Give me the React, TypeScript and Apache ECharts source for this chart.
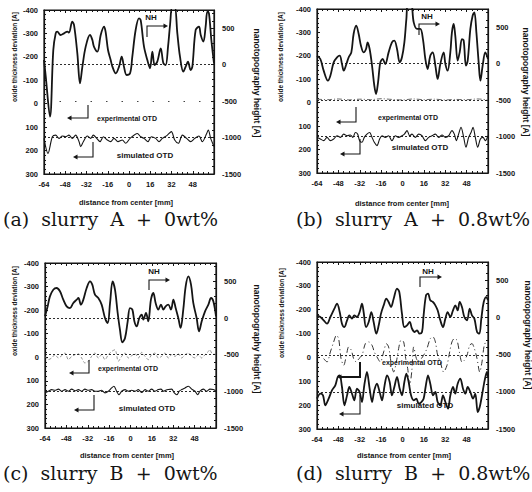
import React, { useEffect, useRef } from 'react';
import * as echarts from 'echarts';

type Pt = [number, number];

const captions = ['(a)  slurry  A  +  0wt%', '(b)  slurry  A  +  0.8wt%', '(c)  slurry  B  +  0wt%', '(d)  slurry  B  +  0.8wt%'];
const xTickLabels = [-64, -48, -32, -16, 0, 16, 32, 48];
const leftAxisName = 'oxide thickness deviation [A]';
const rightAxisName = 'nanotopography height [A]';
const xAxisName = 'distance from center [mm]';
const nhLabel = 'NH';
const expLabel = 'experimental OTD';
const simLabel = 'simulated OTD';

// nanotopography height (right axis, Å)
const nhA: Pt[] = [[-64,64],[-62.7,-160],[-59.5,-713],[-57,200],[-55.2,430],[-54,453],[-51.5,407],[-48.9,430],[-46.4,453],[-45.2,440],[-42.7,590],[-41.4,545],[-38.9,155],[-36.9,-256],[-35.1,-27],[-32.6,247],[-29.4,407],[-27.6,340],[-26.4,247],[-23.8,178],[-21.3,407],[-18.8,521],[-17.6,450],[-15.8,201],[-13.8,64],[-12.5,-27],[-10,-119],[-7.5,-27],[-5.5,110],[-3.8,-27],[-1.8,-142],[0.8,-119],[2.5,110],[5,476],[7.5,636],[8.8,610],[11.3,247],[13.8,64],[15.8,-50],[17.6,178],[19.3,-5],[21.3,41],[23.9,224],[25.9,18],[27.6,-5],[29.4,247],[30.9,544],[32.6,800],[34.4,800],[36.4,430],[38.4,110],[40.9,-96],[42.7,-27],[44.4,41],[46.4,-73],[47.7,-27],[50.2,476],[52.7,521],[54,407],[56,316],[57.7,521],[59,727],[60.2,704],[62,338],[64,18]];
const nhB: Pt[] = [[-64,110],[-61.5,64],[-59,-96],[-55.8,-233],[-54,-165],[-51.5,18],[-49,87],[-47,110],[-45.3,-5],[-44,-96],[-42,-5],[-40.3,87],[-38.3,155],[-36.6,407],[-34.6,521],[-32.8,407],[-31.1,247],[-29.1,155],[-27.3,201],[-26.1,293],[-24.6,201],[-22.8,-27],[-21.1,-302],[-19.8,-416],[-18.3,-256],[-16.6,18],[-14.8,64],[-12.9,-5],[-10.4,155],[-7.9,293],[-6.1,316],[-4.1,201],[-2.1,18],[-0.4,87],[1.4,293],[2.9,613],[4.1,820],[6.4,820],[8.4,567],[10.9,476],[13.3,476],[15.3,338],[17.1,64],[18.8,-73],[20.8,110],[22.6,155],[24.6,-27],[26.3,-210],[28.3,-5],[30.8,155],[32.1,-5],[33.8,-96],[35.8,155],[37,430],[38.3,544],[39.5,384],[41.3,41],[42.8,155],[44.5,338],[45.8,316],[47.5,-27],[48.8,41],[50.8,476],[52.5,658],[53.8,704],[55.3,430],[57,18],[58.3,-233],[60,-27],[62,155],[64,64]];
const nhC: Pt[] = [[-64,23],[-62,159],[-60.3,295],[-57.8,386],[-55.3,409],[-52.8,364],[-50.3,250],[-47.8,159],[-45.3,136],[-42.8,205],[-40.3,250],[-39,273],[-37.1,182],[-35.3,250],[-32.8,409],[-30.3,500],[-28.6,455],[-26.6,318],[-24.1,273],[-21.6,182],[-19.1,0],[-17.1,-68],[-15.3,205],[-13.4,500],[-11.6,386],[-9.6,68],[-7.9,-159],[-6.1,-332],[-4.1,-273],[-2.1,-45],[-0.4,136],[1.4,114],[2.9,-45],[4.6,-114],[6.6,0],[8.4,45],[9.6,-23],[11.6,68],[13.3,-45],[15.3,250],[17.1,341],[18.8,205],[20.8,114],[22.8,182],[24.6,114],[26.3,159],[28.3,182],[30.3,114],[32.1,250],[33.8,136],[35.8,0],[37.5,-136],[39.5,114],[41.3,432],[43.3,568],[45.3,455],[47,205],[49.5,0],[51.3,-182],[53.3,-45],[55.8,91],[58.3,182],[60.3,273],[62,227],[64,23]];
const nhD: Pt[] = [[-64,31],[-61.5,9],[-59,-36],[-56.5,-81],[-54,9],[-51,121],[-49,189],[-47,76],[-45.3,-81],[-43.5,-126],[-41.5,-36],[-39.8,31],[-37.8,-13],[-36.1,31],[-34.1,9],[-32.1,76],[-30.3,189],[-29.1,76],[-27.3,-126],[-25.3,-58],[-23.3,76],[-21.6,-58],[-19.6,-216],[-17.8,-103],[-16.1,54],[-14.1,166],[-12.1,256],[-10.4,211],[-8.6,144],[-6.6,256],[-4.1,391],[-2.4,346],[-0.4,54],[1.4,-126],[3.4,-103],[5.4,-58],[7.1,-148],[9.1,-193],[10.9,-171],[12.8,-216],[14.6,-193],[15.8,31],[17.6,301],[19.1,323],[20.8,234],[22.8,211],[24.6,166],[26.3,99],[28.3,-36],[30.3,-126],[32.1,-13],[33.8,76],[35.8,9],[37.8,99],[39.5,166],[41.3,99],[42.8,211],[44.5,144],[46.3,9],[48.3,-36],[50.3,121],[52,31],[53.8,-13],[55.8,-193],[57.5,-216],[59,-13],[60.8,211],[62.7,278],[64,234]];

// experimental OTD (left axis, Å)
const expB: Pt[] = [[-64,-15],[-56,-13],[-48,-16],[-40,-12],[-32,-15],[-24,-13],[-16,-17],[-8,-14],[0,-12],[8,-16],[16,-13],[24,-15],[32,-12],[40,-14],[48,-13],[56,-16],[64,-12]];
const expC: Pt[] = [[-64,-4],[-61.5,10],[-59,3],[-56.5,-11],[-54,3],[-51.5,-7],[-49,-18],[-46.5,10],[-44,-4],[-41.5,-11],[-39,-15],[-36.6,3],[-34.1,24],[-31.6,17],[-29.1,-4],[-26.6,-18],[-24.1,3],[-21.6,-11],[-19.1,10],[-16.6,-11],[-14.1,-25],[-11.6,-32],[-9.1,17],[-6.6,-4],[-4.1,-18],[-1.6,3],[0.9,-7],[3.4,-15],[5.9,3],[8.4,-21],[10.9,-4],[13.3,10],[15.8,-11],[18.3,-18],[20.8,3],[23.3,-4],[25.8,-18],[28.3,3],[30.8,-11],[33.3,-4],[35.8,-15],[38.3,3],[40.8,-11],[43.3,-18],[45.8,-4],[48.3,3],[50.8,-11],[53.3,3],[55.8,-11],[58.3,-25],[59.5,-32],[60.8,-18],[64,-11]];
const expD: Pt[] = [[-59,5],[-56.5,19],[-54,-23],[-51.5,-65],[-49.5,-93],[-47.8,-79],[-46,5],[-44,33],[-42,-9],[-40.3,-44],[-38.3,-30],[-36.6,5],[-34.6,19],[-32.6,5],[-30.3,-9],[-27.8,-58],[-25.3,-65],[-22.8,-51],[-21.1,-23],[-19.1,-2],[-16.6,19],[-14.1,-23],[-12.1,-58],[-10.4,-44],[-8.6,19],[-6.6,61],[-4.6,19],[-2.9,-37],[-1.1,-72],[0.9,-65],[2.4,5],[3.9,47],[5.4,117],[6.9,61],[8.4,-44],[10.4,5],[12.1,19],[14.1,5],[15.8,-9],[18.3,-37],[20.8,-79],[22.8,-86],[24.6,-65],[26.3,-9],[28.3,19],[30.8,61],[33.3,33],[35.3,-23],[37,-65],[38.8,-79],[40.8,-72],[42.8,-16],[44.5,19],[46.3,12],[48.3,-9],[50.3,-51],[52,-58],[53.8,-37],[55.8,5],[57.8,61],[59.5,19],[61.2,-51],[63.2,-72]];

// simulated OTD (left axis, Å)
const simA: Pt[] = [[-64,148],[-61,212],[-57.7,141],[-55.2,134],[-52.7,148],[-50.2,138],[-47.7,141],[-45.2,134],[-42.7,148],[-40.2,134],[-37.6,162],[-36.4,183],[-34.4,162],[-31.4,138],[-28.9,148],[-26.9,134],[-24.3,148],[-21.8,162],[-19.3,141],[-16.3,155],[-13.8,162],[-11.3,148],[-8.3,162],[-5,155],[-2.5,169],[0.8,148],[6.3,127],[8.8,141],[11.3,148],[14.3,162],[16.8,141],[20.1,148],[22.6,162],[25.1,148],[28.9,134],[31.9,119],[34.4,155],[37.2,169],[40.2,134],[43.4,148],[46.4,162],[49.5,148],[52.7,138],[55.2,162],[58.5,127],[59.7,112],[61.5,148],[64,183]];
const simB: Pt[] = [[-64,148],[-61.5,155],[-59,162],[-56.5,148],[-54,162],[-51.5,155],[-49,141],[-46.5,148],[-44,134],[-41.5,141],[-39,138],[-37.1,148],[-35.3,127],[-33.6,134],[-32.1,162],[-30.3,169],[-28.6,148],[-26.6,134],[-24.6,127],[-22.8,148],[-21.1,169],[-19.1,183],[-17.1,155],[-15.3,141],[-12.9,148],[-10.4,141],[-7.9,162],[-5.4,141],[-2.9,148],[-0.4,141],[1.4,134],[3.4,119],[5.4,141],[7.1,134],[9.6,148],[12.1,134],[14.6,141],[17.1,162],[19.6,148],[22.1,141],[24.6,134],[27.1,148],[29.6,138],[32.1,148],[34.6,141],[37,119],[38.8,134],[40.3,162],[42,134],[43.8,105],[45.8,148],[47.5,190],[49.5,148],[51.3,127],[52.8,105],[54.5,148],[56.3,190],[58.3,155],[60.3,148],[62,162],[64,141]];
const simC: Pt[] = [[-64,151],[-61.5,144],[-59,137],[-56.5,140],[-54,135],[-51.5,144],[-49,137],[-46.5,144],[-44,135],[-41.5,142],[-39,137],[-36.6,144],[-34.1,135],[-31.6,140],[-29.1,137],[-26.6,144],[-24.1,144],[-21.6,140],[-19.1,151],[-16.6,144],[-14.1,130],[-12.4,123],[-10.4,144],[-8.6,159],[-6.6,144],[-4.1,137],[-1.6,144],[0.9,140],[3.4,144],[5.9,137],[8.4,149],[10.9,137],[13.3,144],[15.8,135],[18.3,144],[20.8,137],[22.8,135],[24.6,144],[26.3,140],[28.3,137],[30.8,135],[32.8,151],[34.6,159],[36.5,144],[38.3,137],[40.8,130],[43.3,123],[45.8,135],[48.3,144],[50.3,159],[52,144],[54.5,135],[57,144],[59.5,135],[62,137],[64,144]];
const simD: Pt[] = [[-64,173],[-61.5,152],[-59.5,159],[-57.8,201],[-55.3,173],[-52.8,138],[-50.3,117],[-48.5,82],[-47,75],[-45.3,124],[-43.5,201],[-41.5,159],[-39.8,124],[-37.8,152],[-36.1,180],[-34.1,131],[-32.1,145],[-30.3,187],[-28.6,117],[-26.6,61],[-24.6,131],[-22.8,187],[-21.1,138],[-19.1,110],[-17.1,145],[-15.3,180],[-13.4,117],[-11.6,75],[-9.6,103],[-7.9,159],[-6.1,124],[-4.1,82],[-2.1,131],[-0.4,159],[1.4,103],[2.9,68],[4.6,103],[6.4,159],[8.4,180],[10.4,173],[12.1,194],[14.1,187],[15.8,173],[17.3,124],[19.1,75],[20.8,110],[22.8,159],[24.6,145],[26.3,187],[28.3,201],[30.3,159],[32.1,187],[34.1,215],[35.8,159],[37.8,124],[39.5,152],[41.3,110],[43.3,89],[45.3,131],[47,152],[48.8,124],[50.8,145],[52.8,173],[54.5,152],[56.3,229],[57.8,208],[59.5,159],[61.5,96],[63.2,61],[64,82]];

// reference levels on the right axis: NH zero, experimental & simulated baselines
const baselines = [0, -500, -1000];

const INK = '#151515';
const SANS = '"Liberation Sans", Arial, sans-serif';

interface Panel {
  grid: { left: number; top: number; width: number; height: number };
  nh: Pt[];
  exp: Pt[] | null;
  sim: Pt[];
  expStyle: any;
  simWidth: number;
  sparseExpBase: boolean;
  caption: { x: number; y: number };
  leftName: [number, number];
  rightName: [number, number];
  xName: [number, number];
  nhText: [number, number];
  expText: [number, number];
  simText: [number, number];
  nhArrow: number[][];
  expArrow: number[][];
  simArrow: number[][];
  expArrowWidth: number;
}

const panels: Panel[] = [
  {
    grid: { left: 44, top: 10, width: 170, height: 164 }, nh: nhA, exp: null, sim: simA,
    expStyle: null, simWidth: 1.1, sparseExpBase: true,
    caption: { x: 3, y: 219 }, leftName: [14, 57], rightName: [257, 83], xName: [126, 202],
    nhText: [151, 17], expText: [127, 118], simText: [145, 155],
    nhArrow: [[147, 37], [147, 26], [164, 26]], expArrow: [[88, 105], [88, 118], [71, 118]], simArrow: [[93, 142], [93, 157], [77, 157]], expArrowWidth: 1.1,
  },
  {
    grid: { left: 317, top: 9, width: 171, height: 164 }, nh: nhB, exp: expB, sim: simB,
    expStyle: { color: '#555', width: 0.9, type: [5, 2, 1, 2] }, simWidth: 1.1, sparseExpBase: false,
    caption: { x: 296, y: 219 }, leftName: [280, 57], rightName: [526, 82], xName: [402, 203],
    nhText: [427, 16], expText: [408, 117], simText: [420, 147],
    nhArrow: [[419, 35], [419, 24], [436, 24]], expArrow: [[356, 107], [356, 122], [340, 122]], simArrow: [[360, 139], [360, 154], [344, 154]], expArrowWidth: 1.1,
  },
  {
    grid: { left: 45, top: 263, width: 171, height: 165 }, nh: nhC, exp: expC, sim: simC,
    expStyle: { color: '#777', width: 0.8, type: [3, 2] }, simWidth: 1.1, sparseExpBase: false,
    caption: { x: 3, y: 473 }, leftName: [14, 311], rightName: [257, 339], xName: [127, 455],
    nhText: [154, 271], expText: [128, 368], simText: [147, 408],
    nhArrow: [[149, 290], [149, 280], [166, 280]], expArrow: [[89, 360], [89, 373], [73, 373]], simArrow: [[94, 395], [94, 410], [78, 410]], expArrowWidth: 1.1,
  },
  {
    grid: { left: 317, top: 262, width: 171, height: 167 }, nh: nhD, exp: expD, sim: simD,
    expStyle: { color: '#333', width: 1, type: [6, 3, 1, 3] }, simWidth: 1.8, sparseExpBase: false,
    caption: { x: 296, y: 473 }, leftName: [281, 313], rightName: [528, 335], xName: [404, 455],
    nhText: [428, 271], expText: [412, 362], simText: [425, 405],
    nhArrow: [[420, 287], [420, 277], [438, 277]], expArrow: [[360, 362], [360, 377], [341, 377]], simArrow: [[360, 395], [360, 414], [343, 414]], expArrowWidth: 2,
  },
];

function text(x: number, y: number, t: string, font: string, opts: any = {}) {
  const align = opts.align || 'center';
  return {
    type: 'text', x, y, rotation: opts.rotation || 0, z: 100,
    style: { text: t, font, fill: INK, align, textAlign: align, verticalAlign: 'middle', textVerticalAlign: 'middle' },
  };
}

function arrow(points: number[][], dir: 'left' | 'right', width: number) {
  const [tx, ty] = points[points.length - 1];
  const head = dir === 'right'
    ? [[tx + 4, ty], [tx - 0.5, ty - 2.6], [tx - 0.5, ty + 2.6]]
    : [[tx - 4, ty], [tx + 0.5, ty - 2.6], [tx + 0.5, ty + 2.6]];
  return [
    { type: 'polyline', z: 100, shape: { points }, style: { stroke: INK, lineWidth: width, fill: null } },
    { type: 'polygon', z: 100, shape: { points: head }, style: { fill: INK } },
  ];
}

function buildOption() {
  const grid: any[] = [];
  const xAxis: any[] = [];
  const yAxis: any[] = [];
  const series: any[] = [];
  const graphic: any[] = [];
  const tickLabel = { fontSize: 7.5, fontWeight: 'bold', color: INK, fontFamily: SANS };
  const axisLine = { show: true, onZero: false, lineStyle: { color: INK, width: 1.2 } };
  const axisTick = { show: true, inside: true, length: 3, lineStyle: { color: INK } };

  panels.forEach((p, i) => {
    grid.push({ ...p.grid, show: true, borderColor: INK, borderWidth: 1.2, backgroundColor: 'transparent' });
    const xBase = {
      gridIndex: i, type: 'value', min: -64, max: 64, interval: 16,
      axisLine, axisTick,
      minorTick: { show: true, splitNumber: 4, length: 2, lineStyle: { color: INK } },
      splitLine: { show: false },
    };
    xAxis.push({
      ...xBase, position: 'bottom',
      axisLabel: { ...tickLabel, margin: 6, formatter: (v: number) => (xTickLabels.includes(v) ? String(v) : '') },
    });
    xAxis.push({ ...xBase, position: 'top', axisLabel: { show: false } });
    yAxis.push({
      gridIndex: i, type: 'value', position: 'left', inverse: true, min: -400, max: 300, interval: 100,
      axisLine, axisTick,
      minorTick: { show: true, splitNumber: 5, length: 2, lineStyle: { color: INK } },
      splitLine: { show: false },
      axisLabel: { ...tickLabel, margin: 6, formatter: (v: number) => String(v) },
    });
    yAxis.push({
      gridIndex: i, type: 'value', position: 'right', min: -1500, max: 750, interval: 500,
      axisLine, axisTick,
      minorTick: { show: true, splitNumber: 5, length: 2, lineStyle: { color: INK } },
      splitLine: { show: false },
      axisLabel: { ...tickLabel, margin: 8, showMaxLabel: false, formatter: (v: number) => String(v) },
    });

    const dotted = { color: INK, width: 0.9, type: [2, 2] };
    series.push({
      type: 'line', name: 'NH', xAxisIndex: 2 * i, yAxisIndex: 2 * i + 1, data: p.nh,
      smooth: 0.35, showSymbol: false, symbol: 'none', clip: true,
      lineStyle: { color: INK, width: 1.8 }, z: 5,
      markLine: {
        silent: true, symbol: 'none', label: { show: false }, animation: false,
        lineStyle: dotted,
        data: baselines.map((b) => (b === -500 && p.sparseExpBase
          ? { yAxis: b, lineStyle: { color: '#444', width: 1, type: [1.5, 14] } }
          : { yAxis: b })),
      },
    });
    if (p.exp) {
      series.push({
        type: 'line', name: 'experimental OTD', xAxisIndex: 2 * i, yAxisIndex: 2 * i, data: p.exp,
        smooth: 0.3, showSymbol: false, symbol: 'none', clip: true, lineStyle: p.expStyle, z: 3,
      });
    }
    series.push({
      type: 'line', name: 'simulated OTD', xAxisIndex: 2 * i, yAxisIndex: 2 * i, data: p.sim,
      smooth: 0.3, showSymbol: false, symbol: 'none', clip: true,
      lineStyle: { color: INK, width: p.simWidth }, z: 4,
    });

    graphic.push(text(p.caption.x, p.caption.y, captions[i], '19px "DejaVu Serif", serif', { align: 'left' }));
    graphic.push(text(p.leftName[0], p.leftName[1], leftAxisName, `bold 6.5px ${SANS}`, { rotation: Math.PI / 2 }));
    graphic.push(text(p.rightName[0], p.rightName[1], rightAxisName, `bold 8.5px ${SANS}`, { rotation: -Math.PI / 2 }));
    graphic.push(text(p.xName[0], p.xName[1], xAxisName, `bold 7.5px ${SANS}`));
    graphic.push(text(p.nhText[0], p.nhText[1], nhLabel, `bold 8px ${SANS}`));
    graphic.push(text(p.expText[0], p.expText[1], expLabel, `bold 7px ${SANS}`));
    graphic.push(text(p.simText[0], p.simText[1], simLabel, `bold 8px ${SANS}`));
    graphic.push(...arrow(p.nhArrow, 'right', 1.1));
    graphic.push(...arrow(p.expArrow, 'left', p.expArrowWidth));
    graphic.push(...arrow(p.simArrow, 'left', 1.1));
  });

  return {
    animation: false,
    backgroundColor: '#ffffff',
    grid, xAxis, yAxis, series, graphic,
  };
}

export default function App() {
  const ref = useRef<HTMLDivElement>(null);
  useEffect(() => {
    document.body.style.margin = '0';
    if (!ref.current) return;
    const chart = echarts.init(ref.current, null, { renderer: 'svg' });
    chart.setOption(buildOption() as any);
    return () => chart.dispose();
  }, []);
  return <div ref={ref} style={{ width: 532, height: 492, background: '#fff' }} />;
}
